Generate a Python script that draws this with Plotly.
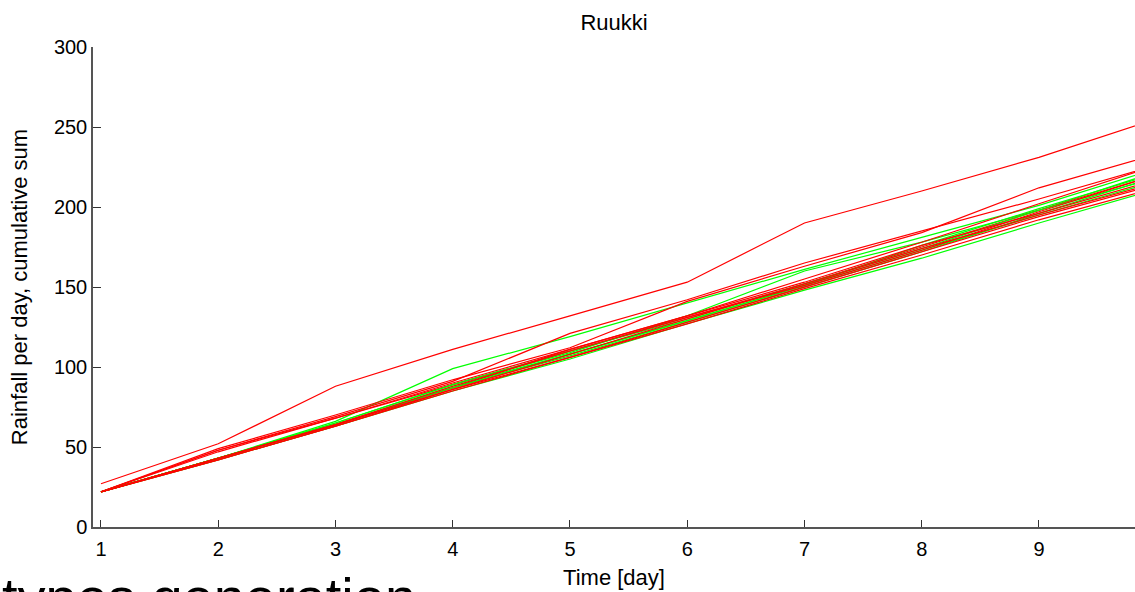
import plotly.graph_objects as go

days = [1, 2, 3, 4, 5, 6, 7, 8, 9, 10]

red_series = {
    "R1": [27, 52, 88, 111, 132, 153, 190, 210, 231, 255],
    "R2": [22, 48, 69, 91, 121, 142, 165, 185, 205, 226],
    "R3": [22, 49, 70, 92, 112, 141, 163, 184, 212, 233],
    "R4": [22, 48, 68, 90, 111, 132, 155, 178, 202, 226],
    "R5": [22, 47, 68, 89, 110, 131, 152, 175, 198, 220],
    "R6": [22, 43, 64, 87, 111, 132, 153, 176, 196, 217],
    "R7": [22, 43, 64, 86, 108, 130, 152, 174, 195, 215],
    "R8": [22, 42, 63, 85, 106, 128, 150, 172, 194, 214],
    "R9": [22, 43, 64, 88, 110, 131, 151, 173, 197, 220],
    "R10": [22, 42, 63, 86, 106, 127, 149, 170, 192, 212],
}
green_series = {
    "G1": [22, 43, 66, 99, 119, 140, 161, 181, 201, 224],
    "G2": [22, 43, 65, 89, 109, 132, 160, 178, 198, 222],
    "G3": [22, 43, 64, 88, 108, 129, 151, 176, 199, 221],
    "G4": [22, 43, 64, 87, 107, 128, 150, 172, 196, 219],
    "G5": [22, 42, 63, 85, 105, 127, 148, 168, 190, 211],
    "G6": [22, 43, 65, 89, 110, 130, 152, 174, 198, 218],
    "G7": [22, 43, 64, 87, 108, 129, 151, 173, 195, 216],
}

title_text = "Ruukki"
x_title = "Time [day]"
y_title = "Rainfall per day, cumulative sum"
x_ticks = [1, 2, 3, 4, 5, 6, 7, 8, 9]
y_ticks = [0, 50, 100, 150, 200, 250, 300]
overlay_text = "types generation"

fig = go.Figure()
reds = list(red_series.items())
greens = list(green_series.items())
order = []
for i in range(max(len(reds), len(greens))):
    if i < len(greens):
        order.append((greens[i], "#00ff00"))
    if i < len(reds):
        order.append((reds[i], "#ff0000"))
for (name, vals), col in order:
    fig.add_trace(go.Scatter(x=days, y=vals, mode="lines", name=name,
                             line=dict(color=col, width=1.2),
                             showlegend=False, hoverinfo="skip"))

font_fam = "Liberation Sans, Arial, sans-serif"
fig.update_layout(
    width=1135, height=592,
    margin=dict(l=93, r=0, t=47, b=65),
    paper_bgcolor="white", plot_bgcolor="white",
    font=dict(family=font_fam, color="black"),
    title=dict(text=title_text, x=0.5, xref="paper", y=1 - 22 / 592,
               yanchor="middle", font=dict(size=22, family=font_fam)),
    xaxis=dict(range=[0.932, 9.819], tickvals=x_ticks, ticks="inside",
               ticklen=7, tickcolor="#333", showgrid=False, zeroline=False,
               showline=True, linecolor="#555", linewidth=1.5,
               ticklabelstandoff=3,
               tickfont=dict(size=20), title=dict(text=x_title, font=dict(size=22), standoff=11)),
    yaxis=dict(range=[0, 300], tickvals=y_ticks, ticks="inside",
               ticklen=8, tickcolor="#333", showgrid=False, zeroline=False,
               showline=True, linecolor="#555", linewidth=1.5,
               tickfont=dict(size=20), title=dict(text=y_title, font=dict(size=22), standoff=20)),
)

fig.add_annotation(text=overlay_text, xref="paper", yref="paper",
                   x=-93 / 1042, y=-(564 - 527) / 480, xanchor="left", yanchor="top",
                   showarrow=False, font=dict(size=56, family=font_fam, color="black"))

fig.write_html("out.html", post_script="document.body.style.margin='0';",
               config={"displayModeBar": False})
